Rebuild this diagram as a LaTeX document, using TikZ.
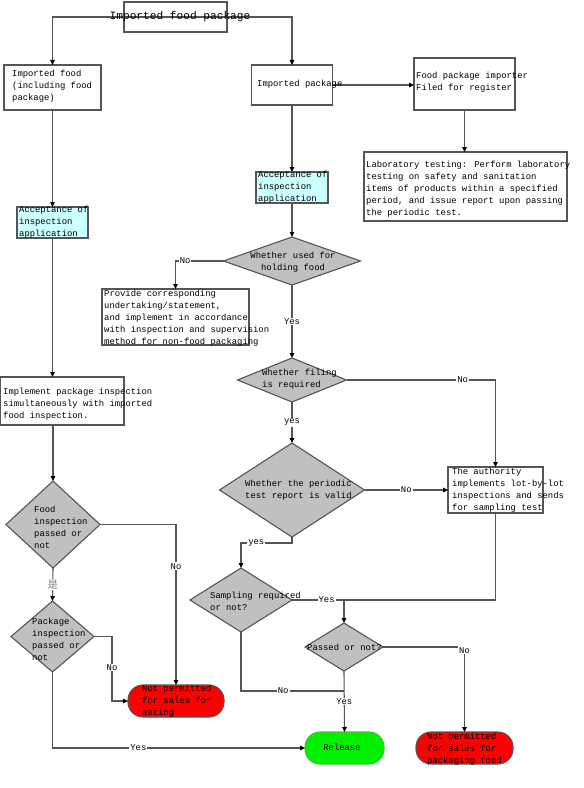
\documentclass[tikz,border=0pt]{standalone}
\usepackage{fontspec}
\usetikzlibrary{shapes.geometric,arrows.meta}
\newfontfamily\mono{Liberation Mono}
\newfontfamily\cjk{Noto Sans CJK SC}
\definecolor{lc}{HTML}{555555}
\definecolor{dfill}{HTML}{C0C0C0}
\definecolor{cyanf}{HTML}{CCFFFF}
\definecolor{redf}{HTML}{FF0000}
\definecolor{greenf}{HTML}{00F000}
\definecolor{greenb}{HTML}{40C040}
\definecolor{cjkc}{HTML}{808080}
\begin{document}
\begin{tikzpicture}[x=1bp,y=-1bp,
  base/.style={draw=lc, line width=1.1bp, inner sep=0, outer sep=0},
  box/.style={base, rectangle, fill=white},
  cbox/.style={base, rectangle, fill=cyanf},
  dia/.style={base, diamond, fill=dfill},
  term/.style={base, rectangle, rounded corners=15bp},
  txt/.style={inner sep=0, align=left, anchor=west, font=\mono\fontsize{8.9}{12}\selectfont},
  elab/.style={fill=white, inner sep=1bp, font=\mono\fontsize{8.9}{12}\selectfont},
  conn/.style={draw=lc, line width=1.1bp},
  arr/.style={conn, -{Triangle[length=5bp,width=4.5bp,color=black]}}
]
\useasboundingbox (0,0) rectangle (584,788);

% shapes
\node[box, minimum width=103bp, minimum height=30bp] (top) at (175.5,17) {};
\node[box, minimum width=97bp, minimum height=45bp] (lbox) at (52.5,87.5) {};
\node[box, minimum width=81bp, minimum height=40bp] (rbox) at (292,85) {};
\node[box, minimum width=101bp, minimum height=52bp] (imp) at (464.5,84) {};
\node[box, minimum width=203bp, minimum height=69bp] (lab) at (465.5,186.5) {};
\node[cbox, minimum width=71bp, minimum height=31bp] (lcyan) at (52.5,222.5) {};
\node[cbox, minimum width=72bp, minimum height=31bp] (rcyan) at (292,187.5) {};
\node[dia, minimum width=137bp, minimum height=48bp] (d1) at (292,261) {};
\node[box, minimum width=147bp, minimum height=56bp] (prov) at (175.5,317) {};
\node[dia, minimum width=109bp, minimum height=44bp] (d2) at (292,380) {};
\node[dia, minimum width=145bp, minimum height=94bp] (d3) at (292,490) {};
\node[box, minimum width=95bp, minimum height=46bp] (auth) at (495.5,490) {};
\node[dia, minimum width=102bp, minimum height=64bp] (d4) at (241,600) {};
\node[dia, minimum width=78bp, minimum height=48bp] (d5) at (344,647) {};
\node[term, fill=greenf, draw=greenb, minimum width=79bp, minimum height=32bp] (rel) at (344.5,748) {};
\node[term, fill=redf, minimum width=97bp, minimum height=32bp] (redR) at (464.5,748) {};
\node[box, minimum width=123.5bp, minimum height=48bp] (impl) at (62.25,401) {};
\node[dia, minimum width=94bp, minimum height=87bp] (d6) at (53,524.5) {};
\node[dia, minimum width=83bp, minimum height=71bp] (d7) at (52.5,636.5) {};
\node[term, fill=redf, minimum width=96bp, minimum height=32bp] (redL) at (176,701) {};
\coordinate (j1) at (241,691);

% connectors
\draw[arr] (top.center) -| (lbox.north);
\draw[arr] (top.center) -| (rbox.north);
\draw[arr] (rbox.east) -- (rbox.east -| imp.west);
\draw[arr] (imp.south) -- (imp.south |- lab.north);
\draw[arr] (rbox.south) -- (rcyan.north);
\draw[arr] (lbox.south) -- (lcyan.north);
\draw[arr] (rcyan.south) -- (d1.north);
\draw[arr] (d1.west) -| (prov.north) node[elab, pos=0.4] {No};
\draw[arr] (d1.south) -- (d2.north) node[elab, midway] {Yes};
\draw[arr] (d2.east) -| (auth.north) node[elab, pos=0.39] {No};
\draw[arr] (d2.south) -- (d3.north) node[elab, midway] {yes};
\draw[arr] (d3.east) -- (auth.west) node[elab, midway] {No};
\draw[arr] (d3.south) -- ++(0,6) -| (d4.north) node[elab, pos=0.35] {yes};
\draw[conn] (d4.east) -- (d4.east -| auth.south) node[elab, pos=0.17] {Yes};
\draw[conn] (auth.south) -- (auth.south |- d4.east);
\draw[arr] (d5.north |- d4.east) -- (d5.north);
\draw[arr] (d5.east) -| (redR.north) node[elab, pos=0.52] {No};
\draw[arr] (d5.south) -- (rel.north) node[elab, midway] {Yes};
\draw[conn] (d4.south) -- (j1) -- (j1 -| d5.south) node[elab, pos=0.41] {No};
\draw[arr] (lcyan.south) -- (lcyan.south |- impl.north);
\draw[arr] (d6.north |- impl.south) -- (d6.north);
\draw[arr] (d6.east) -| (redL.north) node[elab, pos=0.63] {No};
\draw[arr] (d6.south) -- (d7.north) node[elab, midway, text=cjkc, font=\cjk\fontsize{10.5}{12}\selectfont] {是};
\draw[arr] (d7.east) -- ++(18,0) |- (redL.west) node[elab, pos=0.24] {No};
\draw[arr] (d7.south) |- (rel.west) node[elab, pos=0.67] {Yes};

% texts
\node[inner sep=0, font=\mono\fontsize{11.2}{13}\selectfont] (top-t) at (180,17) {Imported food package};
\node[txt] (lbox-t) at (12,86) {Imported food\\(including food\\package)};
\node[txt] (rbox-t) at (257,84) {Imported package};
\node[txt] (imp-t) at (416,82.5) {Food package importer\\Filed for register};
\node[txt] (lab-t) at (366,189.5) {Laboratory testing: Perform laboratory\\testing on safety and sanitation\\items of products within a specified\\period, and issue report upon passing\\the periodic test.};
\node[txt] (lcyan-t) at (19,222.5) {Acceptance of\\inspection\\application};
\node[txt] (rcyan-t) at (258,187.5) {Acceptance of\\inspection\\application};
\node[txt, anchor=center, align=center] (d1-t) at (293,262) {Whether used for\\holding food};
\node[txt] (prov-t) at (104,318) {Provide corresponding\\undertaking/statement,\\and implement in accordance\\with inspection and supervision\\method for non-food packaging};
\node[txt] (d2-t) at (262,379) {Whether filing\\is required};
\node[txt] (d3-t) at (245,490.5) {Whether the periodic\\test report is valid};
\node[txt] (auth-t) at (452,490.5) {The authority\\implements lot-by-lot\\inspections and sends\\for sampling test};
\node[txt] (d4-t) at (210,601) {Sampling required\\or not?};
\node[txt] (d5-t) at (307,647) {Passed or not?};
\node[txt] (impl-t) at (3,404) {Implement package inspection\\simultaneously with imported\\food inspection.};
\node[txt] (d6-t) at (34,527) {Food\\inspection\\passed or\\not};
\node[txt] (d7-t) at (32,639) {Package\\inspection\\passed or\\not};
\node[txt] (redL-t) at (142,701) {Not permitted\\for sales for\\eating};
\node[txt] (redR-t) at (427,749) {Not permitted\\for sales for\\packaging food};
\node[txt, anchor=center] (rel-t) at (342,747) {Release};
\end{tikzpicture}
\end{document}
